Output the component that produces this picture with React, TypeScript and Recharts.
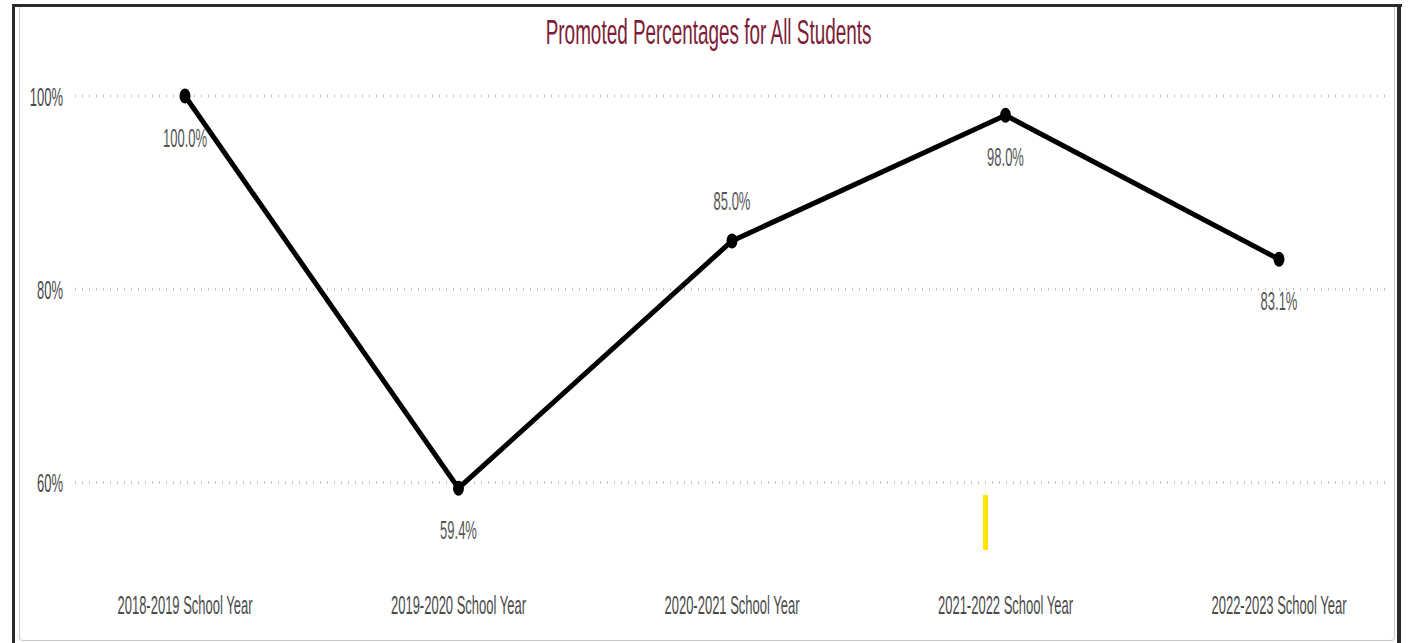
import React from 'react';
import { LineChart, Line, XAxis, YAxis, CartesianGrid, LabelList } from 'recharts';

const YEARS = [
  '2018-2019 School Year',
  '2019-2020 School Year',
  '2020-2021 School Year',
  '2021-2022 School Year',
  '2022-2023 School Year',
];
const PROMOTED = [100.0, 59.4, 85.0, 98.0, 83.1];
const LABEL_SIDE = ['below', 'below', 'above', 'below', 'below'];
const Y_TICKS = [60, 80, 100];

const data = YEARS.map((name, i) => ({ name, value: PROMOTED[i] }));

const FONT = '"Liberation Sans", Arial, sans-serif';
const SQUEEZE = 0.52;

function XTick({ x, y, payload }: any) {
  return (
    <text
      transform={`translate(${x},${y + 26}) scale(${SQUEEZE},1)`}
      textAnchor="middle"
      dominantBaseline="central"
      fontFamily={FONT}
      fontSize={25}
      fill="#4a4a4a"
    >
      {payload.value}
    </text>
  );
}

function YTick({ x, y, payload }: any) {
  return (
    <text
      transform={`translate(${x - 12},${y + 1}) scale(${SQUEEZE},1)`}
      textAnchor="end"
      dominantBaseline="central"
      fontFamily={FONT}
      fontSize={25}
      fill="#4a4a4a"
    >
      {payload.value}%
    </text>
  );
}

function PointLabel({ x, y, value, index }: any) {
  const dy = LABEL_SIDE[index] === 'above' ? -40 : 42;
  return (
    <text
      transform={`translate(${x},${y + dy}) scale(${SQUEEZE},1)`}
      textAnchor="middle"
      dominantBaseline="central"
      fontFamily={FONT}
      fontSize={25}
      fill="#555"
    >
      {Number(value).toFixed(1)}%
    </text>
  );
}

function Dot({ cx, cy }: any) {
  return <ellipse cx={cx} cy={cy} rx={5.5} ry={7.5} fill="#000" />;
}

export default function App() {
  return (
    <div style={{ position: 'fixed', left: 0, top: 0, width: 1408, height: 643, background: '#fff', overflow: 'hidden' }}>
      <div style={{ position: 'absolute', left: 0, top: 0 }}>
        <LineChart width={1408} height={643} data={data} margin={{ top: 96, right: 18, bottom: 0, left: 0 }}>
          <CartesianGrid
            vertical={false}
            horizontalValues={Y_TICKS}
            stroke="#c4c4c4"
            strokeWidth={3}
            strokeDasharray="1 6"
          />
          <XAxis
            dataKey="name"
            axisLine={false}
            tickLine={false}
            tickSize={0}
            tickMargin={0}
            height={64}
            interval={0}
            padding={{ left: 110, right: 111 }}
            tick={<XTick />}
          />
          <YAxis
            domain={[50, 100]}
            ticks={Y_TICKS}
            axisLine={false}
            tickLine={false}
            tickSize={0}
            tickMargin={0}
            width={75}
            tick={<YTick />}
          />
          <Line
            type="linear"
            dataKey="value"
            stroke="#000"
            strokeWidth={5}
            dot={<Dot />}
            activeDot={false}
            isAnimationActive={false}
          >
            <LabelList dataKey="value" content={<PointLabel />} />
          </Line>
        </LineChart>
      </div>

      <div style={{ position: 'absolute', left: 0, top: 13, width: 1417, textAlign: 'center', lineHeight: '38px' }}>
        <span
          style={{
            display: 'inline-block',
            transform: 'scaleX(0.54)',
            fontFamily: FONT,
            fontSize: 35,
            color: '#7d1d38',
            whiteSpace: 'nowrap',
          }}
        >
          Promoted Percentages for All Students
        </span>
      </div>

      <div style={{ position: 'absolute', left: 983, top: 495, width: 5, height: 55, background: '#ffe500' }} />

      <div
        style={{
          position: 'absolute',
          left: 19,
          top: 7,
          width: 1374,
          height: 633,
          border: '1px solid #c9c9c9',
          borderTop: 'none',
          borderRadius: '0 0 4px 4px',
        }}
      />
      <div style={{ position: 'absolute', left: 12, top: 4, width: 1390, height: 3, background: '#2a2a2a' }} />
      <div style={{ position: 'absolute', left: 12, top: 4, width: 3, height: 639, background: '#2a2a2a' }} />
      <div style={{ position: 'absolute', left: 1397, top: 4, width: 4, height: 639, background: '#2a2a2a' }} />
    </div>
  );
}
